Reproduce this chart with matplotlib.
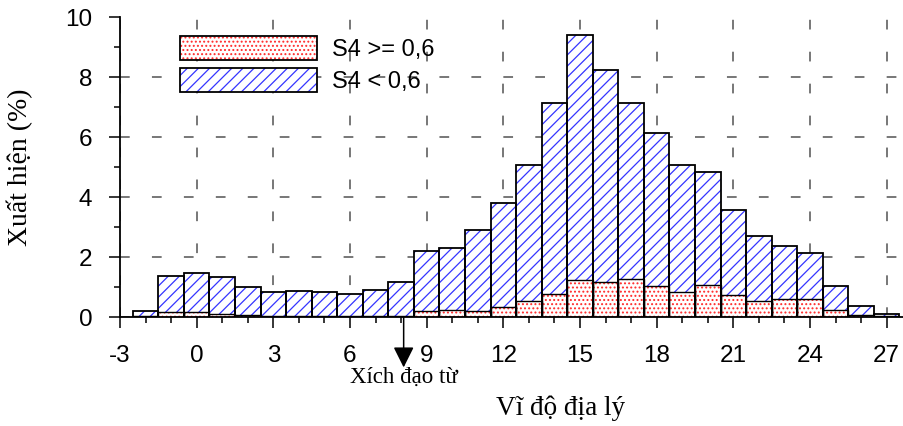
import matplotlib
matplotlib.use('Agg')
import matplotlib.pyplot as plt
from matplotlib.patches import Patch
from matplotlib.legend_handler import HandlerTuple
from matplotlib.ticker import MultipleLocator

# ---- data ----
latitude = list(range(-2, 28))
total_pct = [0.21, 1.36, 1.48, 1.34, 1.00, 0.83, 0.87, 0.85, 0.78, 0.90,
             1.17, 2.21, 2.29, 2.90, 3.79, 5.08, 7.14, 9.41, 8.23, 7.15,
             6.12, 5.08, 4.82, 3.57, 2.70, 2.36, 2.13, 1.05, 0.36, 0.11]
s4_high_pct = [0.02, 0.17, 0.18, 0.11, 0.08, 0.05, 0.03, 0.03, 0.02, 0.03,
               0.02, 0.19, 0.25, 0.20, 0.33, 0.52, 0.78, 1.22, 1.17, 1.27,
               1.02, 0.84, 1.08, 0.75, 0.52, 0.60, 0.60, 0.22, 0.07, 0.03]
x_ticks = [-3, 0, 3, 6, 9, 12, 15, 18, 21, 24, 27]
y_ticks = [0, 2, 4, 6, 8, 10]
legend_labels = ['S4 >= 0,6', 'S4 < 0,6']
magnetic_equator_lat = 8.1

plt.rcParams['font.family'] = ['Liberation Sans', 'DejaVu Sans']
plt.rcParams['hatch.linewidth'] = 0.9
plt.rcParams['lines.scale_dashes'] = False
plt.rcParams['axes.unicode_minus'] = False
serif = ['Liberation Serif', 'DejaVu Serif']

blue = '#3535ff'
red = '#ff2a2a'

fig = plt.figure(figsize=(9.04, 4.26), dpi=100)
ax = fig.add_axes([120 / 904, 109 / 426, 783 / 904, 300 / 426])

ax.bar(latitude, total_pct, width=1.0, color='white', edgecolor=blue,
       hatch='///', linewidth=0, zorder=2)
ax.bar(latitude, s4_high_pct, width=1.0, color='white', edgecolor=red,
       hatch='....', linewidth=0, zorder=3)
ax.bar(latitude, total_pct, width=1.0, fill=False, edgecolor='black',
       linewidth=1.3, zorder=4)
ax.bar(latitude, s4_high_pct, width=1.0, fill=False, edgecolor='black',
       linewidth=1.0, zorder=4)

ax.set_xlim(-3, 27.64)
ax.set_ylim(0, 10)
ax.set_xticks(x_ticks)
ax.set_yticks(y_ticks)
ax.xaxis.set_minor_locator(MultipleLocator(1))
ax.yaxis.set_minor_locator(MultipleLocator(1))
ax.tick_params(which='major', direction='out', length=8, width=1.1,
               labelsize=17.5, pad=12)
ax.tick_params(which='minor', direction='out', length=4, width=1.1)

for s in ['top', 'right']:
    ax.spines[s].set_visible(False)
for s in ['left', 'bottom']:
    ax.spines[s].set_linewidth(1.3)

ax.set_axisbelow(True)
ax.grid(True, which='major', color='#606060', linestyle=(0, (7, 16)),
        linewidth=1.2)
ax.get_ygridlines()[-1].set_visible(False)

h_high = (Patch(facecolor='white', edgecolor=red, hatch='....', lw=0),
          Patch(fill=False, edgecolor='black', lw=1.3))
h_low = (Patch(facecolor='white', edgecolor=blue, hatch='///', lw=0),
         Patch(fill=False, edgecolor='black', lw=1.3))
ax.legend([h_high, h_low], legend_labels,
          handler_map={tuple: HandlerTuple(ndivide=1, pad=0)},
          loc='upper left', bbox_to_anchor=(180 / 904, 1 - 36 / 426),
          bbox_transform=fig.transFigure, frameon=False, fontsize=17,
          handlelength=5.8, handleheight=1.2, handletextpad=0.65,
          labelspacing=0.3, borderpad=0, borderaxespad=0)

ax.annotate('', xy=(magnetic_equator_lat, -1.68), xytext=(magnetic_equator_lat, 0),
            arrowprops=dict(arrowstyle='-|>,head_length=0.9,head_width=0.45',
                            color='black', lw=1.1, shrinkA=0, shrinkB=0,
                            mutation_scale=14),
            annotation_clip=False)
ax.text(magnetic_equator_lat, -2.0, 'Xích đạo từ', ha='center', va='center',
        fontsize=16.5, family=serif, clip_on=False)

ax.set_xlabel('Vĩ độ địa lý', fontsize=19.5, family=serif, va='center')
ax.xaxis.set_label_coords(0.563, -0.303)
ax.set_ylabel('Xuất hiện (%)', fontsize=20, family=serif, va='center')
ax.yaxis.set_label_coords(-0.128, 0.5)

fig.savefig('out.png', dpi=100)
